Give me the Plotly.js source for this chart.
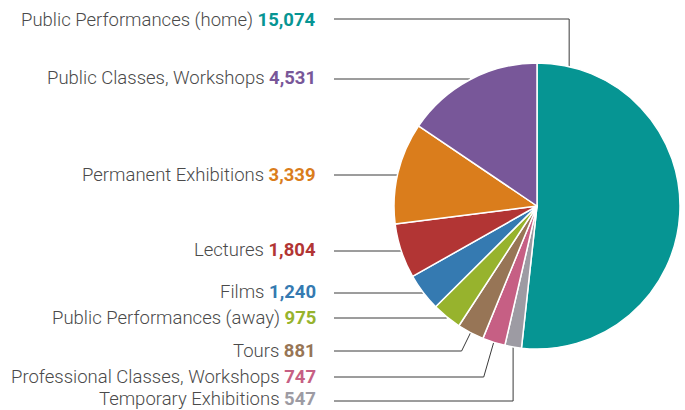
<!DOCTYPE html>
<html>
<head>
<meta charset="utf-8">
<script src="https://cdn.plot.ly/plotly-3.0.1.min.js"></script>
<style>html,body{margin:0;padding:0;background:#fff;}#chart{width:685px;height:410px;}</style>
</head>
<body>
<div id="chart"></div>
<script>
// Data (clockwise order from 12 o'clock)
const categories = [
  "Public Performances (home)",
  "Temporary Exhibitions",
  "Professional Classes, Workshops",
  "Tours",
  "Public Performances (away)",
  "Films",
  "Lectures",
  "Permanent Exhibitions",
  "Public Classes, Workshops"
];
const values = [15074, 547, 747, 881, 975, 1240, 1804, 3339, 4531];
const colors = ["#069593", "#9d9ba3", "#c65f84", "#977556", "#97b32d", "#357ab1", "#b23534", "#da7d1c", "#785799"];

// Layout config (pixels)
const W = 685, H = 410;
const CX = 537, CY = 206, R = 143;
const labelY = [19, 401, 377, 351, 318, 293, 251, 175, 79];
const textY = [20, 398.5, 377, 351, 318, 292, 250, 175, 78];
const elbowDX = [0, 0, -10, -9, null, null, null, null, null]; // elbow offset from leader end
const leaderAngleOverride = {0: 13};
const lineStartX = 334, textRightX = 318;

const px = x => x / W;
const py = y => 1 - y / H;

const total = values.reduce((a, b) => a + b, 0);
let cum = 0;
const shapes = [];
const annotations = [];
values.forEach((v, i) => {
  const mid = (cum + v / 2) / total * 360;
  cum += v;
  const ang = (leaderAngleOverride[i] !== undefined ? leaderAngleOverride[i] : mid) * Math.PI / 180;
  const ex = CX + R * Math.sin(ang);
  const ey = CY - R * Math.cos(ang);
  const ly = labelY[i];
  let path;
  if (elbowDX[i] === null) {
    path = `M ${px(lineStartX)},${py(ly)} L ${px(ex)},${py(ly)}`;
  } else {
    const bx = ex + elbowDX[i];
    path = `M ${px(lineStartX)},${py(ly)} L ${px(bx)},${py(ly)} L ${px(ex)},${py(ey)}`;
  }
  shapes.push({type: 'path', xref: 'paper', yref: 'paper', path: path,
    line: {color: '#3a3a3a', width: 1}, layer: 'below'});
  annotations.push({
    xref: 'paper', yref: 'paper', x: px(textRightX), y: py(textY[i]),
    xanchor: 'right', yanchor: 'middle', showarrow: false,
    text: categories[i] + ' <b><span style="color:' + colors[i] + '">' + v.toLocaleString('en-US') + '</span></b>',
    font: {family: 'Roboto, sans-serif', size: 18.5, color: '#4a4a4a', weight: 300}
  });
});

const trace = {
  type: 'pie',
  labels: categories,
  values: values,
  sort: false,
  direction: 'clockwise',
  rotation: 0,
  marker: {colors: colors, line: {color: '#ffffff', width: 1.5}},
  textinfo: 'none',
  hoverinfo: 'label+value',
  domain: {x: [(CX - R) / W, (CX + R) / W], y: [1 - (CY + R) / H, 1 - (CY - R) / H]}
};

Plotly.newPlot('chart', [trace], {
  width: W, height: H,
  margin: {l: 0, r: 0, t: 0, b: 0},
  paper_bgcolor: '#ffffff',
  showlegend: false,
  shapes: shapes,
  annotations: annotations
}, {displayModeBar: false});
</script>
</body>
</html>
